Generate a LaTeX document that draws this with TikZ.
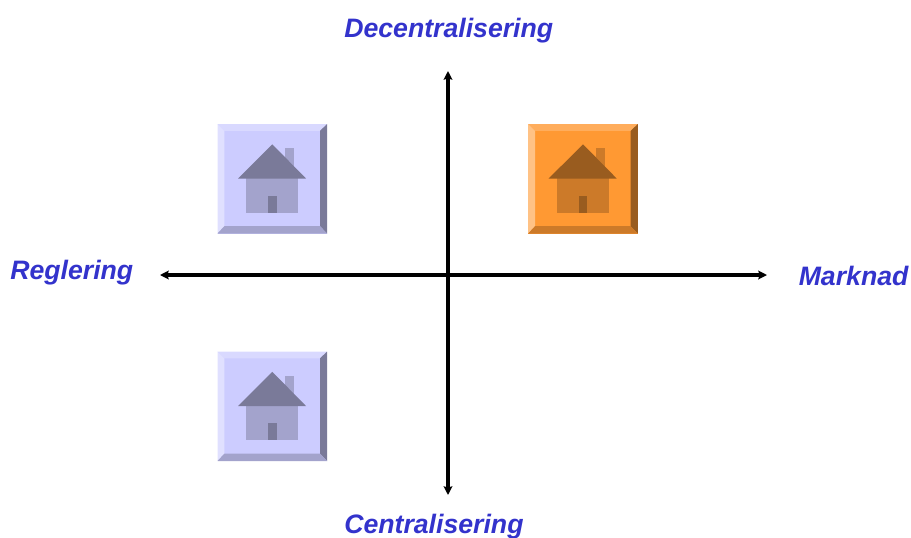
\documentclass[tikz,border=0pt]{standalone}
\usepackage{fontspec}
\setmainfont{Liberation Sans}
\usetikzlibrary{arrows.meta}
\definecolor{lbl}{HTML}{3333CC}
\definecolor{bFace}{HTML}{CCCCFF}
\definecolor{bTop}{HTML}{D9D9FF}
\definecolor{bLeft}{HTML}{E0E0FF}
\definecolor{bRight}{HTML}{7A7A99}
\definecolor{bBottom}{HTML}{A3A3CC}
\definecolor{oFace}{HTML}{FF9933}
\definecolor{oTop}{HTML}{FFAD5C}
\definecolor{oLeft}{HTML}{FFC285}
\definecolor{oRight}{HTML}{995C1F}
\definecolor{oBottom}{HTML}{CC7A29}
\tikzset{
  axislabel/.style={font=\fontsize{20}{24}\selectfont\bfseries\itshape,text=lbl,inner sep=0pt,anchor=base west},
  axisline/.style={draw=black,line width=2.6pt,{Stealth[length=6.5pt,width=6.5pt,inset=1pt]}-{Stealth[length=6.5pt,width=6.5pt,inset=1pt]}},
}
% #1 x-offset, #2 y-offset, #3 colour prefix
\newcommand{\housebutton}[3]{%
 \begin{scope}[shift={(#1,#2)}]
  \fill[#3Face] (217.5,124) rectangle (327.2,233.5);
  \fill[#3Top] (217.5,124) -- (327.2,124) -- (320,130.8) -- (224.3,130.8) -- cycle;
  \fill[#3Left] (217.5,124) -- (224.3,130.8) -- (224.3,226.2) -- (217.5,233.5) -- cycle;
  \fill[#3Right] (327.2,124) -- (327.2,233.5) -- (320,226.2) -- (320,130.8) -- cycle;
  \fill[#3Bottom] (217.5,233.5) -- (224.3,226.2) -- (320,226.2) -- (327.2,233.5) -- cycle;
  \fill[#3Bottom] (285,148.3) rectangle (294,170);
  \fill[#3Bottom] (246,178.3) rectangle (298,212.8);
  \fill[#3Right] (268,195.8) rectangle (276.7,212.8);
  \fill[#3Right] (272.3,144.3) -- (306,178.5) -- (238,178.5) -- cycle;
 \end{scope}}
\begin{document}
\begin{tikzpicture}[x=0.75pt,y=-0.75pt]
\useasboundingbox (0,0) rectangle (911,537);
\housebutton{0}{0}{b}
\housebutton{0}{227.5}{b}
\housebutton{310.7}{0}{o}
\coordinate (west) at (160,275);
\coordinate (east) at (767,275);
\coordinate (north) at (448,71);
\coordinate (south) at (448,495);
\draw[axisline] (west) -- (east);
\draw[axisline] (south) -- (north);
\node[axislabel] (dec) at (344,37.7) {Decentralisering};
\node[axislabel] (reg) at (10,279.3) {Reglering};
\node[axislabel] (mar) at (798.5,285) {Marknad};
\node[axislabel] (cen) at (344,533.5) {Centralisering};
\end{tikzpicture}
\end{document}
